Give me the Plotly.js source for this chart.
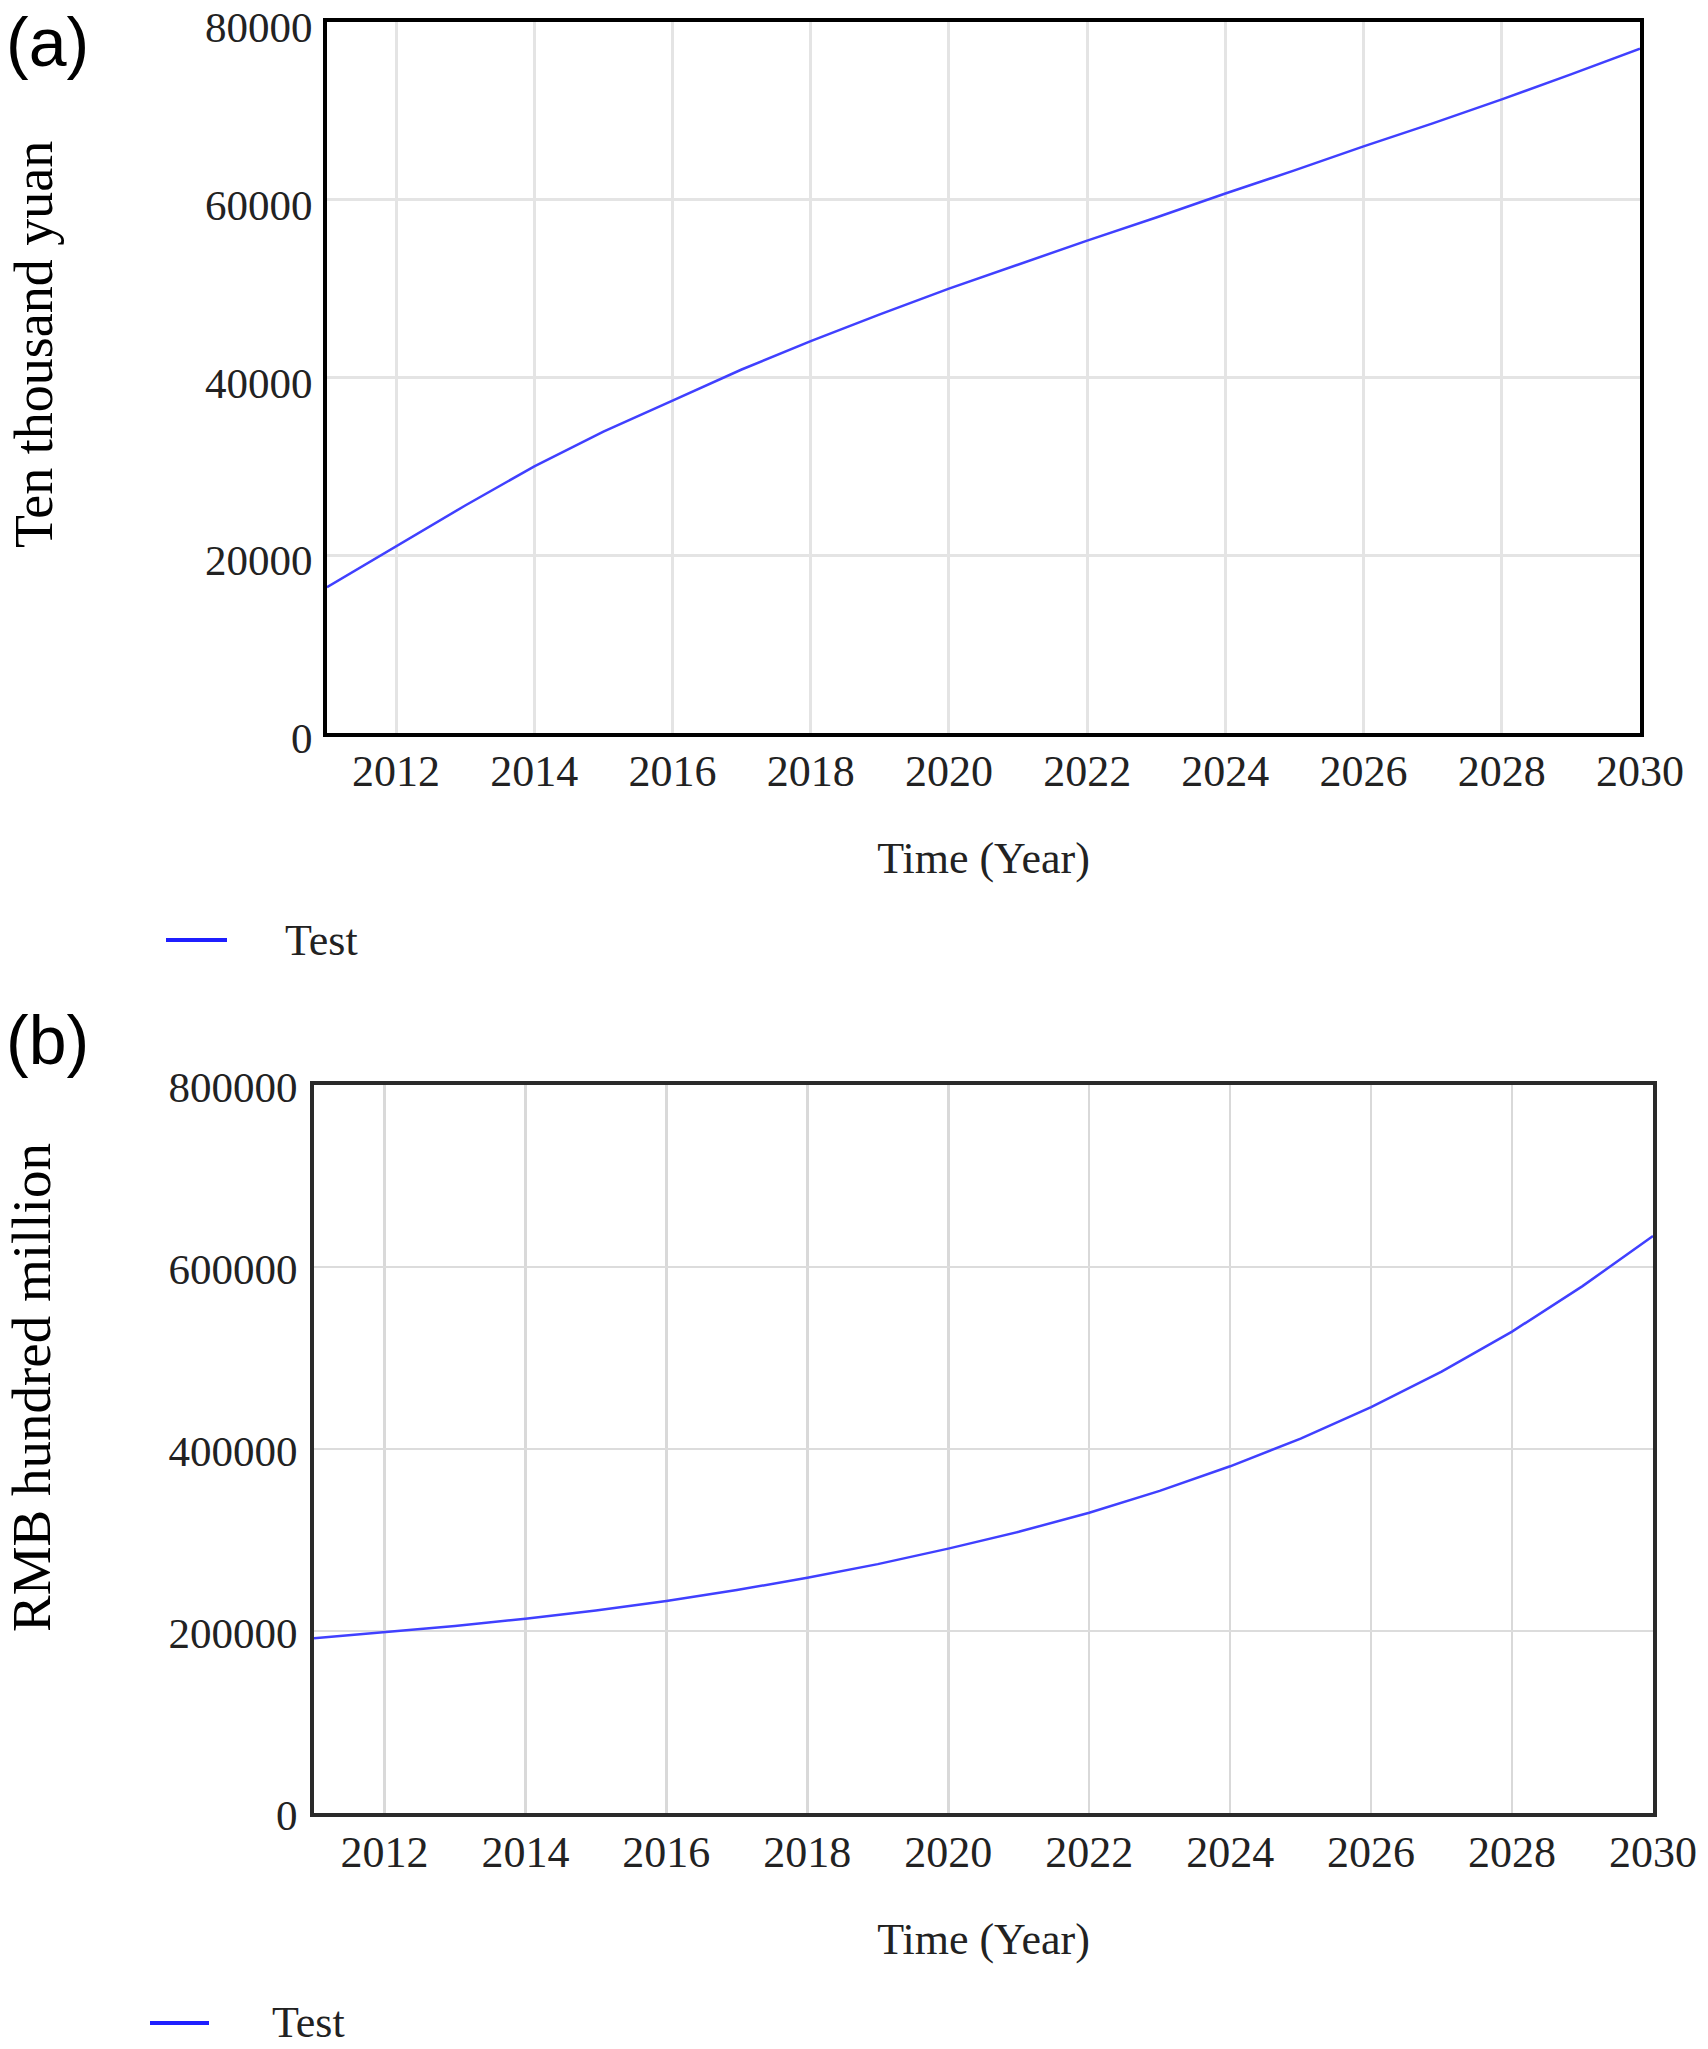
<!DOCTYPE html>
<html>
<head>
<meta charset="utf-8">
<script src="https://cdn.plot.ly/plotly-3.0.1.min.js"></script>
<style>
  html, body { margin: 0; padding: 0; background: #ffffff; }
  #chart { width: 1708px; height: 2049px; }
</style>
</head>
<body>
<div id="chart"></div>
<script>
// ---- data ----
var years = [2011, 2012, 2013, 2014, 2015, 2016, 2017, 2018, 2019, 2020,
             2021, 2022, 2023, 2024, 2025, 2026, 2027, 2028, 2029, 2030];
// (a) Ten thousand yuan
var seriesA = [16400, 21000, 25600, 30000, 33900, 37400, 40900, 44100, 47100, 50000,
               52700, 55400, 58000, 60700, 63300, 66000, 68600, 71300, 74100, 77000];
// (b) RMB hundred million
var seriesB = [192000, 198500, 205500, 213500, 222500, 233000, 245000, 258500, 273500, 290500,
               309000, 330000, 354000, 381000, 411500, 446000, 485000, 529000, 579000, 634000];
var seriesName = "Test";
var panelLabels = ["(a)", "(b)"];
var xTitle = "Time (Year)";
var yTitleA = "Ten thousand yuan";
var yTitleB = "RMB hundred million";

var W = 1708, H = 2049;
function px(x) { return x / W; }
function py(y) { return 1 - y / H; }

var serif = "Liberation Serif, Times New Roman, serif";
var sans = "Liberation Sans, Arial, sans-serif";
var lineColor = "#4040ff";
var legendColor = "#1f1fff";

var traces = [
  { x: years, y: seriesA, type: "scatter", mode: "lines", name: seriesName,
    line: { color: lineColor, width: 2.5 }, xaxis: "x", yaxis: "y", showlegend: false },
  { x: years, y: seriesB, type: "scatter", mode: "lines", name: seriesName,
    line: { color: lineColor, width: 2.5 }, xaxis: "x2", yaxis: "y2", showlegend: false }
];

function xAxis(domain, anchor, lineCol, gridCol, gridW, standoff) {
  return {
    domain: domain, anchor: anchor, range: [2011, 2030],
    tick0: 2010, dtick: 2, ticks: "", ticklabelstandoff: standoff,
    ticklabeloverflow: "allow",
    showgrid: true, gridcolor: gridCol, gridwidth: gridW,
    showline: true, mirror: true, linecolor: lineCol, linewidth: 4,
    zeroline: false,
    tickfont: { family: serif, size: 44, color: "#222222" },
    title: { text: xTitle, standoff: 48, font: { family: serif, size: 44, color: "#222222" } }
  };
}
function yAxis(domain, anchor, range, dtick, lineCol, gridCol, gridW, standoff, shift) {
  return {
    domain: domain, anchor: anchor, range: range, dtick: dtick, tickformat: "d",
    ticks: "", ticklabelstandoff: standoff, ticklabelshift: shift, ticklabeloverflow: "allow",
    showgrid: true, gridcolor: gridCol, gridwidth: gridW,
    showline: true, mirror: true, linecolor: lineCol, linewidth: 4,
    zeroline: false,
    tickfont: { family: serif, size: 43, color: "#222222" }
  };
}

function legendLine(x0, x1, y) {
  return { type: "line", xref: "paper", yref: "paper",
           x0: px(x0), x1: px(x1), y0: py(y), y1: py(y),
           line: { color: legendColor, width: 4 } };
}
function textAnn(text, x, y, opts) {
  var a = { text: text, xref: "paper", yref: "paper", x: px(x), y: py(y),
            showarrow: false, xanchor: "left", yanchor: "middle" };
  for (var k in opts) a[k] = opts[k];
  return a;
}

var layout = {
  width: W, height: H,
  margin: { l: 0, r: 0, t: 0, b: 0 },
  paper_bgcolor: "#ffffff", plot_bgcolor: "#ffffff",
  showlegend: false,
  xaxis: xAxis([px(327), px(1640)], "y", "#000000", "#e4e4e4", 3, -4),
  yaxis: yAxis([py(733), py(22)], "x", [0, 80000], 20000, "#000000", "#e4e4e4", 3, 2, 5),
  xaxis2: xAxis([px(314), px(1653)], "y2", "#2a2a2a", "#d9d9d9", 2.5, -3),
  yaxis2: yAxis([py(1813), py(1085)], "x2", [0, 800000], 200000, "#2a2a2a", "#dcdcdc", 2.5, 4, 2),
  shapes: [
    legendLine(166, 227, 940),
    legendLine(150, 209, 2023)
  ],
  annotations: [
    textAnn(panelLabels[0], 4, 42, { font: { family: sans, size: 68, color: "#000000" } }),
    textAnn(panelLabels[1], 4, 1040, { font: { family: sans, size: 68, color: "#000000" } }),
    textAnn(yTitleA, 34, 345, { xanchor: "center", textangle: -90,
            font: { family: serif, size: 54, color: "#000000" } }),
    textAnn(yTitleB, 31, 1388, { xanchor: "center", textangle: -90,
            font: { family: serif, size: 55, color: "#000000" } }),
    textAnn(seriesName, 283, 940, { font: { family: serif, size: 44, color: "#222222" } }),
    textAnn(seriesName, 270, 2022, { font: { family: serif, size: 44, color: "#222222" } })
  ]
};

Plotly.newPlot("chart", traces, layout, { displayModeBar: false, staticPlot: true });
</script>
</body>
</html>
